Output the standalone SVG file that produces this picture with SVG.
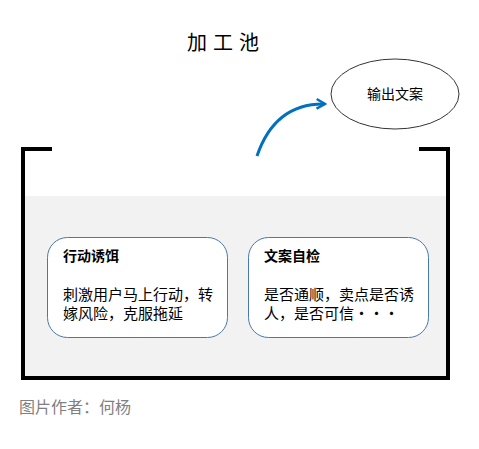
<svg xmlns="http://www.w3.org/2000/svg" width="479" height="449" viewBox="0 0 479 449">
<defs>
<style>
.cjk{font-family:"Liberation Sans","Noto Sans CJK SC",sans-serif;}
.box{fill:#ffffff;stroke:#4a78aa;stroke-width:1;}
.hd{font-size:14px;font-weight:bold;fill:#000;}
.bd{font-size:15px;fill:#000;}
</style>
<marker id="ah" viewBox="0 0 10 10" refX="8" refY="5" markerWidth="4" markerHeight="4" orient="auto" markerUnits="strokeWidth">
<path d="M1,1 L8,5 L1,9" fill="none" stroke="#0070c0" stroke-width="2"/>
</marker>
</defs>
<rect width="479" height="449" fill="#ffffff"/>
<text class="cjk" x="187" y="50" font-size="20" letter-spacing="6" fill="#000">加工池</text>
<g id="pool">
<rect x="25" y="196" width="421" height="180" fill="#f2f2f2"/>
<path d="M52,149 L23,149 L23,378 L448,378 L448,149 L419,149" fill="none" stroke="#000" stroke-width="4"/>
</g>
<g id="output">
<ellipse cx="395" cy="94" rx="64" ry="35" fill="#fff" stroke="#333" stroke-width="1"/>
<text class="cjk" x="395" y="99" font-size="14" text-anchor="middle" fill="#000">输出文案</text>
</g>
<g id="connectors">
<path d="M257,156 Q275,103 325,104" fill="none" stroke="#0070c0" stroke-width="3" marker-end="url(#ah)"/>
</g>
<g id="bait">
<rect class="box" x="47.5" y="237.5" width="180" height="100" rx="20"/>
<text class="cjk hd" x="63" y="261">行动诱饵</text>
<text class="cjk bd" x="63" y="300">刺激用户马上行动，转</text>
<text class="cjk bd" x="63" y="319">嫁风险，克服拖延</text>
</g>
<g id="check">
<rect class="box" x="248.5" y="237.5" width="180" height="100" rx="20"/>
<text class="cjk hd" x="264" y="261">文案自检</text>
<text class="cjk bd" x="264" y="300">是否通顺，卖点是否诱</text>
<text class="cjk bd" x="264" y="319">人，是否可信・・・</text>
</g>
<text class="cjk" x="19" y="413" font-size="16" fill="#808080">图片作者：何杨</text>
</svg>
